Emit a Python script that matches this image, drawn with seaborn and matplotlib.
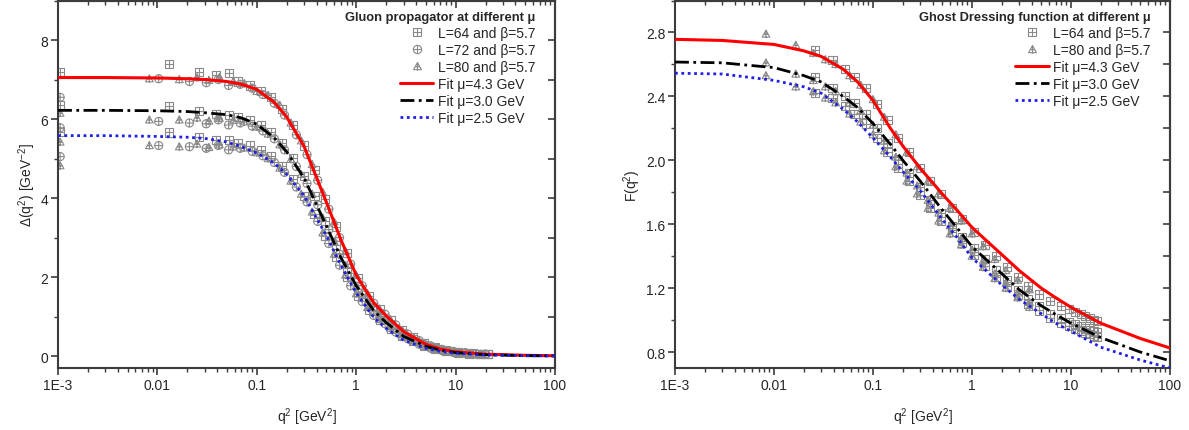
import numpy as np
import matplotlib
matplotlib.use("Agg")
import matplotlib.pyplot as plt
from matplotlib.path import Path
from matplotlib.lines import Line2D
from matplotlib.ticker import FixedLocator, NullFormatter, LogLocator, MultipleLocator
import seaborn as sns

sns.set_style("ticks")
plt.rcParams["font.family"] = ["Liberation Sans", "DejaVu Sans"]
plt.rcParams["mathtext.fontset"] = "custom"
plt.rcParams["mathtext.rm"] = "Liberation Sans"

# ---------------- data ----------------
xtick_vals = [1e-3, 1e-2, 1e-1, 1, 10, 100]
xtick_labels = ["1E-3", "0.01", "0.1", "1", "10", "100"]

# fit curves (both panels share the q^2 grid)
q_fit = [0.001, 0.003, 0.01, 0.02, 0.03, 0.05, 0.07, 0.1, 0.15, 0.2, 0.3, 0.5,
         0.7, 1, 1.5, 2, 3, 5, 7, 10, 20, 50, 100]
glu_fit_43 = [7.05, 7.05, 7.04, 7.02, 7.0, 6.95, 6.88, 6.75, 6.42, 6.05, 5.3, 3.9,
              2.95, 2.05, 1.35, 1.02, 0.62, 0.3, 0.18, 0.11, 0.05, 0.02, 0.01]
glu_fit_30 = [6.22, 6.22, 6.21, 6.19, 6.16, 6.11, 6.03, 5.87, 5.52, 5.17, 4.5, 3.3,
              2.5, 1.78, 1.15, 0.85, 0.5, 0.25, 0.15, 0.09, 0.035, 0.012, 0.005]
glu_fit_25 = [5.58, 5.58, 5.56, 5.54, 5.51, 5.42, 5.3, 5.14, 4.88, 4.6, 4.05, 3.05,
              2.3, 1.6, 0.98, 0.7, 0.4, 0.2, 0.12, 0.07, 0.03, 0.01, 0.005]
gh_fit_43 = [2.757, 2.75, 2.725, 2.685, 2.65, 2.57, 2.49, 2.375, 2.2, 2.09, 1.95, 1.79,
             1.69, 1.58, 1.48, 1.41, 1.31, 1.20, 1.14, 1.08, 0.98, 0.885, 0.825]
gh_fit_30 = [2.615, 2.61, 2.58, 2.53, 2.49, 2.40, 2.33, 2.23, 2.10, 2.00, 1.87, 1.69,
             1.58, 1.46, 1.36, 1.29, 1.19, 1.09, 1.035, 0.98, 0.89, 0.80, 0.745]
gh_fit_25 = [2.545, 2.54, 2.50, 2.46, 2.42, 2.32, 2.24, 2.14, 2.02, 1.93, 1.81, 1.63,
             1.52, 1.39, 1.29, 1.22, 1.13, 1.04, 0.98, 0.93, 0.83, 0.75, 0.70]

# gluon lattice data (three renormalisation points each)
q_zero = [0.00105]
glu_zero_64 = [7.2, 6.35, 5.68]
glu_zero_72 = [6.55, 5.78, 5.05]
glu_zero_80 = [6.15, 5.42, 4.82]

q_80 = [0.0083, 0.0166, 0.025, 0.033, 0.042, 0.058, 0.075, 0.1, 0.13, 0.17, 0.22, 0.28,
        0.36, 0.46, 0.6, 0.78, 1.0, 1.3, 1.7, 2.2, 2.9, 3.8, 5.0, 6.5, 8.5, 11, 14, 18]
q_72 = [0.0103, 0.021, 0.031, 0.041, 0.052, 0.068, 0.09, 0.115, 0.15, 0.19, 0.25, 0.32,
        0.41, 0.53, 0.68, 0.88, 1.15, 1.5, 1.95, 2.5, 3.3, 4.3, 5.6, 7.3, 9.5, 12.5, 16, 20]
q_64 = [0.013, 0.026, 0.039, 0.052, 0.065, 0.085, 0.11, 0.14, 0.18, 0.23, 0.3, 0.38,
        0.49, 0.63, 0.8, 1.05, 1.35, 1.75, 2.25, 2.9, 3.7, 4.8, 6.2, 8.0, 10.5, 13.5, 17.5, 21]

glu_80_43 = [7.02, 7.0, 7.05, 6.98, 7.05, 6.95, 6.9, 6.7, 6.6, 6.35, 5.9, 5.45,
             4.85, 4.15, 3.4, 2.65, 2.05, 1.58, 1.2, 0.93, 0.66, 0.46, 0.3, 0.21, 0.14, 0.1, 0.075, 0.055]
glu_80_30 = [5.98, 5.98, 6.03, 5.95, 6.02, 5.97, 5.93, 5.8, 5.62, 5.35, 4.98, 4.6,
             4.1, 3.5, 2.9, 2.3, 1.78, 1.38, 1.04, 0.8, 0.57, 0.4, 0.26, 0.18, 0.12, 0.085, 0.065, 0.05]
glu_80_25 = [5.33, 5.3, 5.37, 5.28, 5.35, 5.3, 5.27, 5.15, 5.0, 4.76, 4.43, 4.1,
             3.65, 3.12, 2.58, 2.05, 1.58, 1.23, 0.93, 0.71, 0.51, 0.36, 0.24, 0.16, 0.11, 0.08, 0.06, 0.045]
glu_72_43 = [7.02, 6.95, 6.92, 7.0, 6.85, 6.88, 6.78, 6.62, 6.4, 6.1, 5.6, 5.1,
             4.45, 3.72, 3.0, 2.33, 1.78, 1.34, 1.06, 0.79, 0.56, 0.39, 0.26, 0.17, 0.12, 0.085, 0.065, 0.05]
glu_72_30 = [5.94, 5.9, 5.88, 5.98, 5.85, 5.9, 5.82, 5.7, 5.5, 5.22, 4.8, 4.37,
             3.83, 3.2, 2.58, 2.0, 1.55, 1.16, 0.92, 0.68, 0.49, 0.34, 0.23, 0.15, 0.1, 0.075, 0.057, 0.045]
glu_72_25 = [5.33, 5.3, 5.26, 5.33, 5.22, 5.26, 5.18, 5.07, 4.9, 4.65, 4.28, 3.9,
             3.41, 2.85, 2.3, 1.78, 1.38, 1.03, 0.82, 0.61, 0.44, 0.3, 0.2, 0.14, 0.095, 0.07, 0.053, 0.042]
glu_64_43 = [7.4, 7.2, 7.12, 7.17, 6.95, 6.85, 6.72, 6.55, 6.25, 5.85, 5.33, 4.72,
             3.98, 3.28, 2.6, 1.97, 1.53, 1.18, 0.91, 0.67, 0.49, 0.33, 0.23, 0.16, 0.11, 0.085, 0.065, 0.055]
glu_64_30 = [6.34, 6.2, 6.12, 6.11, 6.05, 5.98, 5.85, 5.68, 5.4, 5.02, 4.55, 4.05,
             3.42, 2.82, 2.24, 1.7, 1.32, 1.02, 0.79, 0.58, 0.43, 0.29, 0.2, 0.14, 0.095, 0.075, 0.057, 0.048]
glu_64_25 = [5.66, 5.55, 5.48, 5.48, 5.4, 5.33, 5.22, 5.07, 4.82, 4.48, 4.05, 3.6,
             3.05, 2.52, 2.0, 1.52, 1.18, 0.91, 0.7, 0.52, 0.38, 0.26, 0.18, 0.125, 0.085, 0.065, 0.05, 0.043]

# ghost lattice data
qg_80 = [0.0083, 0.0166, 0.025, 0.033, 0.042, 0.058, 0.075, 0.1, 0.13, 0.17, 0.22,
         0.28, 0.36, 0.46, 0.6, 0.78, 1.0, 1.3, 1.7, 2.2, 2.9, 3.8]
qg_64 = [0.026, 0.039, 0.052, 0.065, 0.085, 0.11, 0.14, 0.18, 0.23, 0.3, 0.38, 0.49,
         0.63, 0.8, 1.05, 1.35, 1.75, 2.25, 2.9, 3.7, 4.8, 6.2, 8.0, 9.5, 11, 12.5, 14, 15.5, 17, 18.5]
gh_80_43 = [2.79, 2.72, 2.67, 2.63, 2.60, 2.53, 2.47, 2.38, 2.27, 2.16, 2.05,
            1.96, 1.87, 1.79, 1.70, 1.62, 1.54, 1.46, 1.38, 1.31, 1.25, 1.19]
gh_80_30 = [2.61, 2.54, 2.50, 2.46, 2.43, 2.36, 2.31, 2.22, 2.12, 2.02, 1.92,
            1.84, 1.75, 1.67, 1.59, 1.51, 1.44, 1.37, 1.29, 1.23, 1.17, 1.11]
gh_80_25 = [2.53, 2.46, 2.43, 2.39, 2.36, 2.29, 2.24, 2.16, 2.06, 1.96, 1.87,
            1.79, 1.70, 1.62, 1.54, 1.47, 1.40, 1.33, 1.26, 1.20, 1.14, 1.08]
gh_64_43 = [2.69, 2.625, 2.57, 2.52, 2.45, 2.35, 2.25, 2.14, 2.05, 1.95, 1.87, 1.79,
            1.70, 1.63, 1.55, 1.47, 1.40, 1.33, 1.27, 1.21, 1.16, 1.12, 1.09, 1.07, 1.05, 1.04, 1.025, 1.015, 1.0, 0.995]
gh_64_30 = [2.52, 2.45, 2.40, 2.36, 2.29, 2.20, 2.11, 2.00, 1.92, 1.83, 1.75, 1.67,
            1.59, 1.52, 1.45, 1.38, 1.31, 1.25, 1.19, 1.13, 1.09, 1.04, 1.01, 0.99, 0.975, 0.96, 0.95, 0.94, 0.93, 0.925]
gh_64_25 = [2.42, 2.39, 2.34, 2.29, 2.23, 2.14, 2.05, 1.95, 1.87, 1.78, 1.70, 1.62,
            1.55, 1.48, 1.41, 1.34, 1.27, 1.21, 1.16, 1.10, 1.06, 1.01, 0.98, 0.96, 0.945, 0.93, 0.92, 0.91, 0.90, 0.895]

# ---------------- marker shapes: open symbol with a cross inside ----------------
M, L, C = Path.MOVETO, Path.LINETO, Path.CLOSEPOLY
sq_plus = Path([(-1, -1), (1, -1), (1, 1), (-1, 1), (-1, -1), (-1, 0), (1, 0), (0, -1), (0, 1)],
               [M, L, L, L, C, M, L, M, L])
circ = Path.unit_circle()
circ_plus = Path(np.vstack([circ.vertices, [(-1, 0), (1, 0), (0, -1), (0, 1)]]),
                 list(circ.codes) + [M, L, M, L])
tri_plus = Path([(0, 1), (-1, -0.8), (1, -0.8), (0, 1), (0, 1), (0, -1.05), (-0.55, -0.05), (0.55, -0.05)],
                [M, L, L, C, M, L, M, L])

gray = "#8a8a8a"
spine_col = "#3c3c3c"
fit_styles = [("red", "-", 2.2), ("black", (0, (5, 1.6, 1, 1.6)), 2.0), ("#1f1fe6", (0, (1, 1.3)), 2.0)]

fig = plt.figure(figsize=(11.89, 4.31), dpi=100)
ax1 = fig.add_axes([0.0488, 0.1439, 0.418, 0.8526])
ax2 = fig.add_axes([0.5677, 0.1439, 0.4163, 0.8526])


def points(ax, q, vals, marker):
    sns.scatterplot(x=q, y=vals, ax=ax, marker=marker, s=34, facecolor="none",
                    edgecolor=gray, linewidth=0.8, zorder=2)


def fits(ax, curves):
    for vals, (col, ls, lw) in zip(curves, fit_styles):
        sns.lineplot(x=q_fit, y=vals, ax=ax, color=col, linestyle=ls, linewidth=lw, zorder=3)


def style_axis(ax, ymin, ymax, ymajor, yminor, ylabel):
    ax.set_xscale("log")
    ax.set_xlim(1e-3, 100)
    ax.set_ylim(ymin, ymax)
    ax.xaxis.set_major_locator(FixedLocator(xtick_vals))
    ax.set_xticklabels(xtick_labels)
    ax.xaxis.set_minor_locator(LogLocator(base=10, subs=np.arange(2, 10)))
    ax.xaxis.set_minor_formatter(NullFormatter())
    ax.yaxis.set_major_locator(MultipleLocator(ymajor))
    ax.yaxis.set_minor_locator(MultipleLocator(yminor))
    for s in ax.spines.values():
        s.set_visible(True)
        s.set_color(spine_col)
        s.set_linewidth(1.5)
    ax.tick_params(which="major", direction="out", length=5, width=1.2, color=spine_col,
                   labelsize=10, pad=2)
    ax.tick_params(which="minor", direction="out", length=3, width=1.0, color=spine_col)
    ax.set_xlabel("q$^2$ [GeV$^2$]", fontsize=10, labelpad=10)
    ax.set_ylabel(ylabel, fontsize=10, labelpad=2)
    top = ax.secondary_xaxis("top")
    top.xaxis.set_major_locator(FixedLocator(xtick_vals))
    top.xaxis.set_minor_locator(LogLocator(base=10, subs=np.arange(2, 10)))
    top.tick_params(which="major", direction="in", length=5, width=1.2, color=spine_col, labeltop=False)
    top.tick_params(which="minor", direction="in", length=3, width=1.0, color=spine_col)
    top.xaxis.set_minor_formatter(NullFormatter())
    top.spines["top"].set_color(spine_col)
    top.spines["top"].set_linewidth(1.5)
    right = ax.secondary_yaxis("right")
    right.yaxis.set_major_locator(MultipleLocator(ymajor))
    right.yaxis.set_minor_locator(MultipleLocator(yminor))
    right.tick_params(which="both", direction="in", length=5, width=1.2, color=spine_col, labelright=False)
    right.spines["right"].set_color(spine_col)
    right.spines["right"].set_linewidth(1.5)


def legend(ax, title, entries):
    handles = []
    labels = []
    for marker, lab in entries:
        handles.append(Line2D([], [], marker=marker, ls="none", mfc="none", mec=gray, ms=6, mew=0.8))
        labels.append(lab)
    for (col, ls, lw), lab in zip(fit_styles, ["Fit μ=4.3 GeV", "Fit μ=3.0 GeV", "Fit μ=2.5 GeV"]):
        handles.append(Line2D([], [], color=col, ls=ls, lw=lw))
        labels.append(lab)
    ax.legend(handles, labels, loc="upper right", bbox_to_anchor=(1 - 15 / 497, 1 - 5.5 / 367),
              frameon=False, title=title,
              title_fontproperties={"weight": "bold", "size": 9.3}, fontsize=10,
              alignment="right", handlelength=2.4, handletextpad=0.3, labelspacing=0.22,
              borderaxespad=0.15, borderpad=0.2)


# ---- left: gluon propagator ----
for zero, mk in [(glu_zero_64, sq_plus), (glu_zero_72, circ_plus), (glu_zero_80, tri_plus)]:
    points(ax1, q_zero * 3, zero, mk)
for q, vals, mk in [(q_64, glu_64_43, sq_plus), (q_64, glu_64_30, sq_plus), (q_64, glu_64_25, sq_plus),
                    (q_72, glu_72_43, circ_plus), (q_72, glu_72_30, circ_plus), (q_72, glu_72_25, circ_plus),
                    (q_80, glu_80_43, tri_plus), (q_80, glu_80_30, tri_plus), (q_80, glu_80_25, tri_plus)]:
    points(ax1, q, vals, mk)
fits(ax1, [glu_fit_43, glu_fit_30, glu_fit_25])
style_axis(ax1, -0.3, 9.0, 2, 1, "Δ(q$^2$) [GeV$^{-2}$]")
legend(ax1, "Gluon propagator at different μ",
       [(sq_plus, "L=64 and β=5.7"), (circ_plus, "L=72 and β=5.7"), (tri_plus, "L=80 and β=5.7")])

# ---- right: ghost dressing function ----
for q, vals, mk in [(qg_64, gh_64_43, sq_plus), (qg_64, gh_64_30, sq_plus), (qg_64, gh_64_25, sq_plus),
                    (qg_80, gh_80_43, tri_plus), (qg_80, gh_80_30, tri_plus), (qg_80, gh_80_25, tri_plus)]:
    points(ax2, q, vals, mk)
fits(ax2, [gh_fit_43, gh_fit_30, gh_fit_25])
style_axis(ax2, 0.7, 3.0, 0.4, 0.2, "F(q$^2$)")
legend(ax2, "Ghost Dressing function at different μ",
       [(sq_plus, "L=64 and β=5.7"), (tri_plus, "L=80 and β=5.7")])

fig.savefig("out.png", dpi=100)
